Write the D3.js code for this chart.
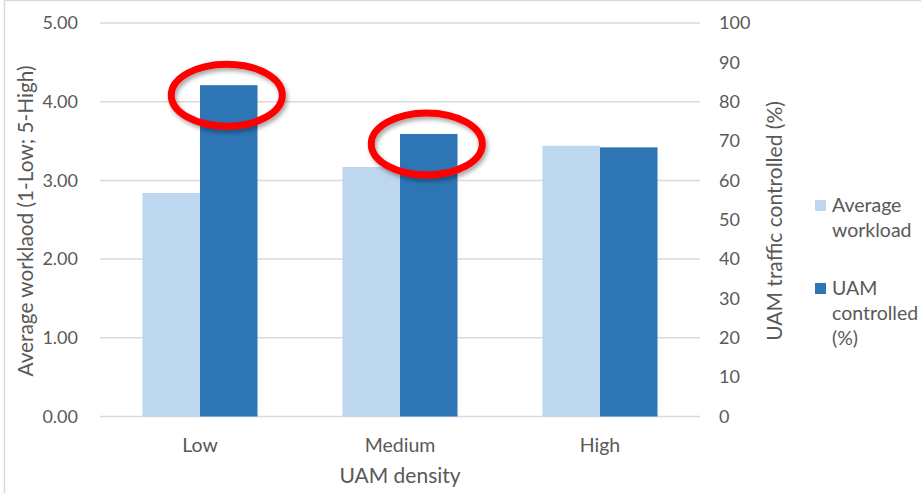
<!DOCTYPE html>
<html>
<head>
<meta charset="utf-8">
<script src="https://cdn.jsdelivr.net/npm/d3@7"></script>
<style>
  html, body { margin: 0; padding: 0; background: #fff; }
  svg { display: block; font-family: Lato, "Open Sans", sans-serif; }
</style>
</head>
<body>
<svg id="chart" width="921" height="493"></svg>
<script>
// UAM density levels on the x axis
const categories = ["Low", "Medium", "High"];
// Average workload rating (1-Low; 5-High), left axis
const workload = [2.84, 3.17, 3.44];
// Share of UAM traffic controlled (%), right axis
const controlled = [84.2, 71.8, 68.4];
// Series names as shown in the legend
const seriesNames = ["Average workload", "UAM controlled (%)"];
// Tick values for both value axes
const leftTicks = [0, 1, 2, 3, 4, 5];
const rightTicks = [0, 10, 20, 30, 40, 50, 60, 70, 80, 90, 100];
// Bars circled for emphasis
const highlighted = ["Low", "Medium"];

const svg = d3.select("#chart");
const colors = ["#BDD7EE", "#2E75B6"];
const textColor = "#595959";
const gridColor = "#D9D9D9";

const plot = { left: 100, right: 700, top: 23, bottom: 416.5 };

// outer frame (top and left edges)
svg.append("line").attr("x1", 4.5).attr("x2", 921).attr("y1", 0.5).attr("y2", 0.5)
  .attr("stroke", "#D9D9D9").attr("stroke-width", 1.5);
svg.append("line").attr("x1", 4.5).attr("x2", 4.5).attr("y1", 0).attr("y2", 493)
  .attr("stroke", "#D9D9D9").attr("stroke-width", 1.5);

const x0 = d3.scaleBand().domain(categories).range([plot.left, plot.right]).padding(0);
const groupWidth = x0.bandwidth() * 0.575;
const x1 = d3.scaleBand().domain([0, 1]).range([0, groupWidth]).padding(0);
const yL = d3.scaleLinear().domain([0, 5]).range([plot.bottom, plot.top]);
const yR = d3.scaleLinear().domain([0, 100]).range([plot.bottom, plot.top]);

// horizontal gridlines
svg.append("g").selectAll("line").data(leftTicks).join("line")
  .attr("x1", plot.left).attr("x2", plot.right)
  .attr("y1", d => yL(d)).attr("y2", d => yL(d))
  .attr("stroke", gridColor).attr("stroke-width", 1.5);

// bars
const groups = svg.append("g").selectAll("g").data(categories).join("g")
  .attr("transform", d => `translate(${x0(d) + (x0.bandwidth() - groupWidth) / 2},0)`);

groups.append("rect")
  .attr("x", x1(0)).attr("width", x1.bandwidth())
  .attr("y", (d, i) => yL(workload[i]))
  .attr("height", (d, i) => plot.bottom - yL(workload[i]))
  .attr("fill", colors[0]);

groups.append("rect")
  .attr("x", x1(1)).attr("width", x1.bandwidth())
  .attr("y", (d, i) => yR(controlled[i]))
  .attr("height", (d, i) => plot.bottom - yR(controlled[i]))
  .attr("fill", colors[1]);

// left axis
const axL = svg.append("g").attr("transform", `translate(${plot.left},0)`)
  .call(d3.axisLeft(yL).tickValues(leftTicks).tickFormat(d3.format(".2f")).tickSize(0).tickPadding(22));
axL.select(".domain").remove();
axL.selectAll("text").attr("fill", textColor).style("font-size", "18px").style("font-family", "Lato");

// right axis
const axR = svg.append("g").attr("transform", `translate(${plot.right},0)`)
  .call(d3.axisRight(yR).tickValues(rightTicks).tickFormat(d3.format("d")).tickSize(0).tickPadding(19));
axR.select(".domain").remove();
axR.selectAll("text").attr("fill", textColor).style("font-size", "18px").style("font-family", "Lato");

// category axis
const axB = svg.append("g").attr("transform", `translate(0,${plot.bottom})`)
  .call(d3.axisBottom(x0).tickSize(0).tickPadding(22));
axB.select(".domain").remove();
axB.selectAll("text").attr("fill", textColor).style("font-size", "19.5px").style("font-family", "Lato");

// axis titles
svg.append("text").attr("x", 400).attr("y", 483).attr("text-anchor", "middle")
  .attr("fill", textColor).style("font-size", "21px").text("UAM density");

svg.append("text").attr("transform", "translate(33,221) rotate(-90)").attr("text-anchor", "middle")
  .attr("fill", textColor).style("font-size", "20.8px").text("Average worklaod (1-Low; 5-High)");

svg.append("text").attr("transform", "translate(782,221) rotate(-90)").attr("text-anchor", "middle")
  .attr("fill", textColor).style("font-size", "21px").text("UAM traffic controlled (%)");

// legend
const legendItems = [
  { lines: ["Average", "workload"], color: colors[0], y: 200 },
  { lines: ["UAM", "controlled", "(%)"], color: colors[1], y: 283 }
];
const lg = svg.append("g").selectAll("g").data(legendItems).join("g");
lg.append("rect").attr("x", 815).attr("y", d => d.y).attr("width", 11).attr("height", 11)
  .attr("fill", d => d.color);
lg.append("text").attr("fill", textColor).style("font-size", "19.5px")
  .selectAll("tspan").data(d => d.lines.map((l, i) => ({ l, i, y: d.y }))).join("tspan")
  .attr("x", 832).attr("y", d => d.y + 12 + d.i * 25).text(d => d.l);

// red ellipses around the highlighted bars
const defs = svg.append("defs");
const f = defs.append("filter").attr("id", "shadow").attr("x", "-20%").attr("y", "-30%")
  .attr("width", "140%").attr("height", "160%");
f.append("feDropShadow").attr("dx", 2).attr("dy", 3).attr("stdDeviation", 2)
  .attr("flood-color", "#000").attr("flood-opacity", 0.35);

svg.append("g").selectAll("ellipse").data(highlighted).join("ellipse")
  .attr("cx", d => x0(d) + (x0.bandwidth() - groupWidth) / 2 + x1(1) + x1.bandwidth() / 2 - 2)
  .attr("cy", d => yR(controlled[categories.indexOf(d)]) + 10)
  .attr("rx", 55.5).attr("ry", 31)
  .attr("fill", "none").attr("stroke", "#FF0000").attr("stroke-width", 7)
  .attr("filter", "url(#shadow)");
</script>
</body>
</html>
